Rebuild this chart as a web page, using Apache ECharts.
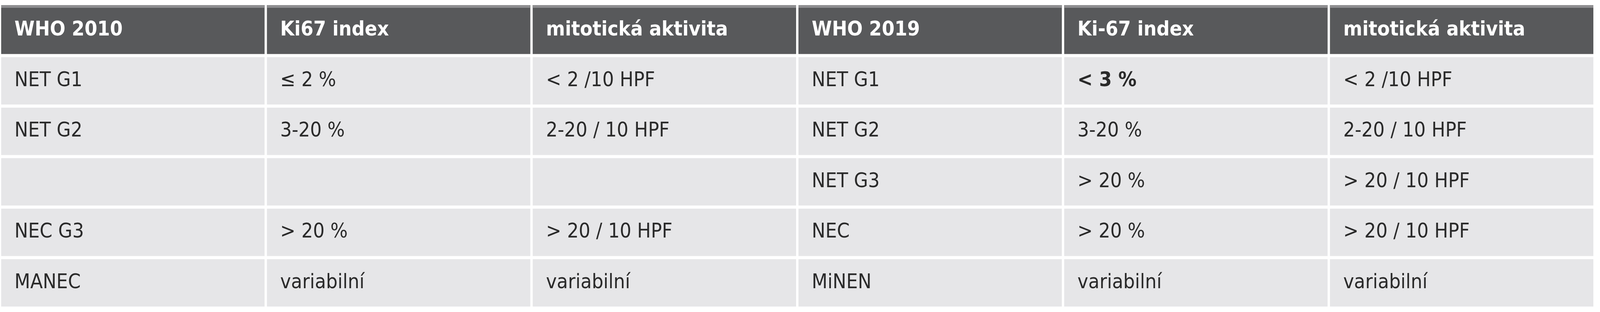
<!DOCTYPE html>
<html><head><meta charset="utf-8">
<script src="https://cdn.jsdelivr.net/npm/echarts@6/dist/echarts.min.js"></script>
<style>html,body{margin:0;padding:0;background:#fff;overflow:hidden}#c{width:100vw;height:100vh}</style>
</head><body><div id="c"></div>
<script>
const headers = ['WHO 2010','Ki67 index','mitotická aktivita','WHO 2019','Ki-67 index','mitotická aktivita'];
const who2010 = ['NET G1','NET G2','','NEC G3','MANEC'];
const ki67_2010 = ['≤ 2 %','3-20 %','','> 20 %','variabilní'];
const mit2010 = ['< 2 /10 HPF','2-20 / 10 HPF','','> 20 / 10 HPF','variabilní'];
const who2019 = ['NET G1','NET G2','NET G3','NEC','MiNEN'];
const ki67_2019 = ['< 3 %','3-20 %','> 20 %','> 20 %','variabilní'];
const mit2019 = ['< 2 /10 HPF','2-20 / 10 HPF','> 20 / 10 HPF','> 20 / 10 HPF','variabilní'];
const boldCells = [[4,1]]; // [col,row]

const cols = [who2010, ki67_2010, mit2010, who2019, ki67_2019, mit2019];
const data = [];
headers.forEach((h,c)=>data.push([c,0,h,1]));
cols.forEach((arr,c)=>arr.forEach((v,r)=>data.push([c,r+1,v,boldCells.some(b=>b[0]===c&&b[1]===r+1)?2:0])));

const chart = echarts.init(document.getElementById('c'));
const FONT = "'Liberation Sans Narrow','DejaVu Sans Condensed','Liberation Sans',sans-serif";
const W = chart.getWidth(), H = chart.getHeight();
const fs = Math.round(H*0.065);
chart.setOption({
  backgroundColor:'#ffffff',
  animation:false,
  grid:{left:0,right:Math.round(W*0.0034),top:Math.round(H*0.016),bottom:Math.round(H*0.0125)},
  xAxis:{type:'category',data:headers.map((_, i)=>i),show:false},
  yAxis:{type:'category',data:[0,1,2,3,4,5],inverse:true,show:false},
  series:[{
    type:'custom',
    data:data,
    renderItem:function(params,api){
      const c=api.value(0), r=api.value(1), kind=api.value(3);
      const txt=data[params.dataIndex][2];
      const p=api.coord([c,r]);
      const sz=api.size([1,1]);
      const x=p[0]-sz[0]/2+3, y=p[1]-sz[1]/2+(r===0?0:4);
      const w=sz[0]-6, h=sz[1]-(r===0?4:8);
      const children=[{type:'rect',shape:{x:x,y:y,width:w,height:h},style:{fill:r===0?'#58595b':'#e6e6e8'}}];
      if(r===0) children.push({type:'rect',shape:{x:x,y:y,width:w,height:7},style:{fill:'#8e8e90'}});
      children.push({type:'text',style:{text:txt,x:x+sz[0]*0.05,y:y+h/2+(r===0?2:0),verticalAlign:'middle',align:'left',
        font:(kind>0?'bold ':'')+fs+'px '+FONT,fill:r===0?'#ffffff':'#2a2a2a'}});
      return {type:'group',children:children};
    }
  }]
});
</script></body></html>
